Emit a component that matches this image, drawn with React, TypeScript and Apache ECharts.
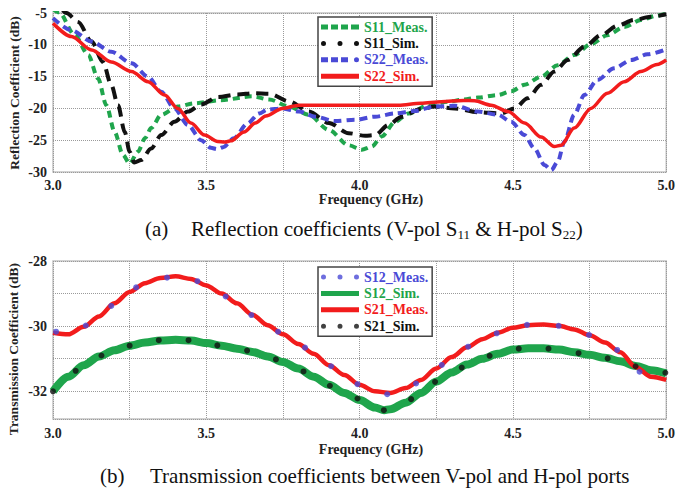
import { useEffect, useRef } from "react";
import * as echarts from "echarts";

// ---------- (a) Reflection coefficients ----------
const s11Meas: [number, number][] = [
  [3.0, -4.4], [3.02, -4.9], [3.071, -8.5], [3.115, -11.6], [3.147, -15.3], [3.174, -19.5],
  [3.201, -23.7], [3.228, -27.3], [3.25, -28.7], [3.277, -26.8], [3.3, -24.7], [3.32, -23.1],
  [3.353, -21.0], [3.407, -19.7], [3.461, -19.2], [3.548, -18.7], [3.65, -18.1], [3.705, -18.6],
  [3.77, -19.7], [3.834, -21.0], [3.9, -23.4], [3.964, -25.8], [4.007, -26.5], [4.04, -26.0],
  [4.072, -24.4], [4.116, -22.1], [4.159, -20.8], [4.224, -19.5], [4.289, -18.95], [4.338, -18.6],
  [4.386, -18.3], [4.451, -17.9], [4.494, -17.3], [4.538, -16.3], [4.592, -15.0], [4.646, -13.2],
  [4.7, -11.6], [4.754, -9.9], [4.808, -8.5], [4.863, -7.2], [4.917, -6.1], [4.97, -5.4], [5.0, -5.1],
];
const s11Sim: [number, number][] = [
  [3.0, -2.0], [3.044, -5.0], [3.082, -6.4], [3.126, -9.5], [3.163, -12.7], [3.19, -16.3],
  [3.212, -19.5], [3.234, -23.7], [3.25, -26.8], [3.265, -28.5], [3.288, -28.1], [3.32, -26.3],
  [3.353, -24.2], [3.396, -22.1], [3.44, -20.5], [3.483, -19.4], [3.537, -18.2], [3.602, -17.8],
  [3.656, -17.6], [3.705, -17.7], [3.77, -18.9], [3.834, -20.5], [3.9, -22.3], [3.964, -23.9],
  [4.018, -24.3], [4.05, -24.2], [4.094, -22.6], [4.137, -21.3], [4.2, -20.1], [4.245, -19.7],
  [4.31, -20.0], [4.386, -20.6], [4.461, -20.8], [4.505, -20.0], [4.548, -18.4], [4.592, -16.3],
  [4.635, -14.2], [4.679, -12.4], [4.733, -10.3], [4.787, -8.5], [4.841, -7.0], [4.895, -6.1],
  [4.949, -5.6], [5.0, -5.2],
];
const s22Meas: [number, number][] = [
  [3.0, -5.8], [3.06, -7.7], [3.126, -9.5], [3.19, -11.1], [3.256, -12.9], [3.31, -15.0],
  [3.353, -17.4], [3.396, -20.0], [3.44, -22.6], [3.483, -25.0], [3.515, -26.2], [3.535, -26.4],
  [3.555, -26.1], [3.59, -24.7], [3.634, -22.4], [3.672, -20.8], [3.7, -20.2], [3.748, -20.0],
  [3.802, -20.5], [3.856, -21.3], [3.92, -22.0], [3.985, -21.8], [4.05, -21.3], [4.116, -20.8],
  [4.18, -20.4], [4.245, -19.7], [4.31, -19.6], [4.386, -20.5], [4.451, -21.0], [4.494, -22.1],
  [4.538, -24.2], [4.57, -26.3], [4.603, -28.9], [4.625, -29.7], [4.646, -28.4], [4.668, -25.2],
  [4.7, -21.0], [4.733, -17.9], [4.776, -15.5], [4.83, -13.7], [4.885, -12.4], [4.939, -11.5],
  [5.0, -10.7],
];
const s22Sim: [number, number][] = [
  [3.0, -6.6], [3.06, -8.7], [3.126, -10.8], [3.19, -12.7], [3.256, -14.2], [3.31, -15.8],
  [3.364, -17.9], [3.407, -20.0], [3.45, -22.3], [3.494, -24.2], [3.537, -25.2], [3.56, -25.3],
  [3.58, -25.1], [3.623, -23.7], [3.66, -22.3], [3.694, -21.2], [3.748, -20.0], [3.802, -19.5],
  [3.9, -19.5], [4.0, -19.5], [4.127, -19.5], [4.2, -19.2], [4.266, -18.95], [4.338, -18.75],
  [4.375, -18.8], [4.429, -19.5], [4.484, -20.5], [4.538, -22.3], [4.592, -24.5], [4.635, -26.0],
  [4.657, -25.8], [4.7, -23.1], [4.754, -20.0], [4.808, -17.6], [4.863, -15.8], [4.917, -14.2],
  [4.97, -13.1], [5.0, -12.4],
];

// ---------- (b) Transmission coefficients ----------
const s21Meas: [number, number][] = [
  [3.0, -30.2], [3.05, -30.25], [3.1, -30.02], [3.15, -29.7], [3.2, -29.3], [3.25, -28.95],
  [3.3, -28.68], [3.35, -28.52], [3.4, -28.47], [3.45, -28.55], [3.5, -28.75], [3.55, -29.0],
  [3.6, -29.3], [3.65, -29.65], [3.7, -29.97], [3.75, -30.25], [3.8, -30.55], [3.85, -30.85],
  [3.9, -31.2], [3.95, -31.5], [4.0, -31.8], [4.05, -32.0], [4.1, -32.05], [4.15, -31.9],
  [4.2, -31.65], [4.25, -31.3], [4.3, -30.95], [4.35, -30.65], [4.4, -30.4], [4.45, -30.2],
  [4.5, -30.05], [4.55, -29.97], [4.6, -29.95], [4.65, -29.99], [4.7, -30.1], [4.75, -30.28],
  [4.8, -30.5], [4.85, -30.8], [4.9, -31.25], [4.95, -31.55], [5.0, -31.65],
];
const s12Sim: [number, number][] = [
  [3.0, -32.0], [3.05, -31.55], [3.1, -31.2], [3.15, -30.93], [3.2, -30.74], [3.25, -30.6],
  [3.3, -30.5], [3.35, -30.44], [3.4, -30.42], [3.45, -30.44], [3.5, -30.52], [3.55, -30.6],
  [3.6, -30.69], [3.65, -30.79], [3.7, -30.93], [3.75, -31.1], [3.8, -31.3], [3.85, -31.55],
  [3.9, -31.8], [3.95, -32.05], [4.0, -32.27], [4.05, -32.5], [4.08, -32.58], [4.1, -32.55],
  [4.15, -32.35], [4.2, -32.05], [4.25, -31.7], [4.3, -31.42], [4.35, -31.18], [4.4, -31.0],
  [4.45, -30.85], [4.5, -30.72], [4.55, -30.68], [4.6, -30.68], [4.65, -30.72], [4.7, -30.8],
  [4.75, -30.88], [4.8, -30.97], [4.85, -31.08], [4.9, -31.22], [4.95, -31.35], [5.0, -31.45],
];
const s12MeasDots: [number, number][] = [
  [3.01, -30.17], [3.107, -29.98], [3.19, -29.38], [3.271, -28.81], [3.372, -28.51], [3.471, -28.62],
  [3.563, -29.09], [3.647, -29.66], [3.734, -30.17], [3.822, -30.66], [3.907, -31.23], [3.993, -31.78],
  [4.09, -32.09], [4.184, -31.76], [4.268, -31.19], [4.354, -30.63], [4.447, -30.22], [4.546, -29.96],
  [4.649, -29.99], [4.748, -30.27], [4.84, -30.73], [4.913, -31.4],
];
const s21SimDots: [number, number][] = [
  [3.0, -32.0], [3.074, -31.37], [3.158, -30.9], [3.25, -30.6], [3.345, -30.43], [3.442, -30.43],
  [3.536, -30.59], [3.633, -30.75], [3.727, -31.02], [3.817, -31.39], [3.903, -31.83], [3.993, -32.22],
  [4.079, -32.58], [4.168, -32.24], [4.246, -31.71], [4.333, -31.27], [4.424, -30.91], [4.519, -30.69],
  [4.616, -30.69], [4.714, -30.83], [4.809, -30.99], [4.9, -31.23], [4.997, -31.43],
];

const legendTop = ["S11_Meas.", "S11_Sim.", "S22_Meas.", "S22_Sim."];
const legendBottom = ["S12_Meas.", "S12_Sim.", "S21_Meas.", "S21_Sim."];

const GREEN = "#1fa54c";
const BLACK = "#111111";
const BLUE = "#4a4ad6";
const RED = "#f21c1c";
const SERIF = "'Liberation Serif', 'Times New Roman', serif";

const DASH_ICON = "path://M0,0H7V5H0Z M10,0H17V5H10Z M20,0H27V5H20Z M30,0H38V5H30Z";
const DOT_ICON =
  "path://M0,2.5a2.5,2.5 0 1,0 5,0a2.5,2.5 0 1,0 -5,0Z M16.5,2.5a2.5,2.5 0 1,0 5,0a2.5,2.5 0 1,0 -5,0Z M33,2.5a2.5,2.5 0 1,0 5,0a2.5,2.5 0 1,0 -5,0Z";
const DASH_DOT_ICON =
  "path://M0,0H7V5H0Z M10,0H17V5H10Z M20,0H27V5H20Z M33,2.5a2.5,2.5 0 1,0 5,0a2.5,2.5 0 1,0 -5,0Z";
const SOLID_ICON = "path://M0,0H38V5H0Z";

const labelStyle = {
  fontFamily: SERIF,
  fontWeight: "bold",
  fontSize: 14,
  color: "#222",
};

function xAxisFor(gridIndex: number, margin: number) {
  return {
    type: "value",
    gridIndex,
    min: 3,
    max: 5,
    interval: 0.25,
    axisLine: { show: false },
    axisTick: { show: false },
    axisLabel: {
      ...labelStyle,
      margin,
      formatter: (v: number) => (Math.abs(v * 2 - Math.round(v * 2)) < 1e-6 ? v.toFixed(1) : ""),
    },
    splitLine: { show: true, lineStyle: { color: "#9a9a9a", type: "dotted", width: 1 } },
  };
}

export default function App() {
  const ref = useRef<HTMLDivElement>(null);
  useEffect(() => {
    if (!ref.current) return;
    const chart = echarts.init(ref.current, null, { renderer: "svg" });
    const legendBase = {
      orient: "vertical",
      selectedMode: false,
      backgroundColor: "#ffffff",
      borderColor: "#444",
      borderWidth: 1.5,
      itemWidth: 38,
      itemHeight: 5,
      itemGap: 2.4,
      padding: [3, 4, 3, 3],
      textStyle: { fontFamily: SERIF, fontWeight: "bold", fontSize: 14 },
    };
    const titleFont = `bold 13.5px ${SERIF}`;
    const option: any = {
      animation: false,
      backgroundColor: "#ffffff",
      grid: [
        { left: 53, right: 9, top: 13, height: 159, show: true, borderColor: "#c4c4c4", borderWidth: 1.5, backgroundColor: "transparent" },
        { left: 53, right: 8, top: 261, height: 158, show: true, borderColor: "#c4c4c4", borderWidth: 1.5, backgroundColor: "transparent" },
      ],
      xAxis: [xAxisFor(0, 6), xAxisFor(1, 7)],
      yAxis: [
        {
          type: "value",
          gridIndex: 0,
          min: -30,
          max: -5,
          interval: 5,
          axisLine: { show: false },
          axisTick: { show: false },
          axisLabel: { ...labelStyle, margin: 6 },
          splitLine: { show: true, lineStyle: { color: "#9a9a9a", type: "dotted", width: 1 } },
        },
        {
          type: "value",
          gridIndex: 1,
          min: -32.85,
          max: -28,
          splitNumber: 5,
          axisLine: { show: false },
          axisTick: { show: false },
          axisLabel: {
            ...labelStyle,
            margin: 6,
            formatter: (v: number) =>
              Math.abs(v - Math.round(v)) < 1e-6 && Math.round(v) % 2 === 0 ? String(Math.round(v)) : "",
          },
          splitLine: { show: true, lineStyle: { color: "#9a9a9a", type: "dotted", width: 1 } },
        },
      ],
      legend: [
        {
          ...legendBase,
          left: 318,
          top: 17,
          data: [
            { name: legendTop[0], icon: DASH_ICON, itemStyle: { color: GREEN }, textStyle: { color: GREEN } },
            { name: legendTop[1], icon: DOT_ICON, itemStyle: { color: BLACK }, textStyle: { color: BLACK } },
            { name: legendTop[2], icon: DASH_DOT_ICON, itemStyle: { color: BLUE }, textStyle: { color: BLUE } },
            { name: legendTop[3], icon: SOLID_ICON, itemStyle: { color: RED }, textStyle: { color: RED } },
          ],
        },
        {
          ...legendBase,
          left: 318,
          top: 267,
          data: [
            { name: legendBottom[0], icon: DOT_ICON, itemStyle: { color: BLUE }, textStyle: { color: BLUE } },
            { name: legendBottom[1], icon: SOLID_ICON, itemStyle: { color: GREEN }, textStyle: { color: GREEN } },
            { name: legendBottom[2], icon: SOLID_ICON, itemStyle: { color: RED }, textStyle: { color: RED } },
            { name: legendBottom[3], icon: DOT_ICON, itemStyle: { color: BLACK }, textStyle: { color: BLACK } },
          ],
        },
      ],
      series: [
        {
          type: "line", name: legendTop[0], xAxisIndex: 0, yAxisIndex: 0, data: s11Meas,
          smooth: 0.3, smoothMonotone: "x", symbol: "none",
          itemStyle: { color: GREEN }, lineStyle: { color: GREEN, width: 4, type: [7, 5] },
        },
        {
          type: "line", name: legendTop[1], xAxisIndex: 0, yAxisIndex: 0, data: s11Sim,
          smooth: 0.3, smoothMonotone: "x", symbol: "none",
          itemStyle: { color: BLACK }, lineStyle: { color: BLACK, width: 4, type: [12, 7] },
        },
        {
          type: "line", name: legendTop[2], xAxisIndex: 0, yAxisIndex: 0, data: s22Meas,
          smooth: 0.3, smoothMonotone: "x", symbol: "none",
          itemStyle: { color: BLUE }, lineStyle: { color: BLUE, width: 4, type: [8, 5] },
        },
        {
          type: "line", name: legendTop[3], xAxisIndex: 0, yAxisIndex: 0, data: s22Sim,
          smooth: 0.3, smoothMonotone: "x", symbol: "none",
          itemStyle: { color: RED }, lineStyle: { color: RED, width: 3.5 },
        },
        {
          type: "line", name: legendBottom[1], xAxisIndex: 1, yAxisIndex: 1, data: s12Sim,
          smooth: 0.3, smoothMonotone: "x", symbol: "none", z: 2,
          itemStyle: { color: GREEN }, lineStyle: { color: GREEN, width: 8 },
        },
        {
          type: "line", name: legendBottom[2], xAxisIndex: 1, yAxisIndex: 1, data: s21Meas,
          smooth: 0.3, smoothMonotone: "x", symbol: "none", z: 2,
          itemStyle: { color: RED }, lineStyle: { color: RED, width: 4.5 },
        },
        {
          type: "scatter", name: legendBottom[0], xAxisIndex: 1, yAxisIndex: 1, data: s12MeasDots,
          symbolSize: 6, z: 3, itemStyle: { color: BLUE },
        },
        {
          type: "scatter", name: legendBottom[3], xAxisIndex: 1, yAxisIndex: 1, data: s21SimDots,
          symbolSize: 6, z: 3, itemStyle: { color: BLACK },
        },
      ],
      graphic: [
        {
          type: "text", x: 14, y: 93, rotation: Math.PI / 2,
          style: { text: "Reflection Coefficient (dB)", font: titleFont, fill: "#222", align: "center", verticalAlign: "middle" },
        },
        {
          type: "text", x: 371, y: 199,
          style: { text: "Frequency (GHz)", font: `bold 14px ${SERIF}`, fill: "#222", align: "center", verticalAlign: "middle" },
        },
        {
          type: "text", x: 145, y: 229,
          style: { text: "(a)", font: `21px ${SERIF}`, fill: "#111", align: "left", verticalAlign: "middle" },
        },
        {
          type: "text", x: 191, y: 229,
          style: {
            text: "{t|Reflection coefficients (V-pol S}{s|11}{t| & H-pol S}{s|22}{t|)}",
            align: "left", verticalAlign: "middle",
            rich: {
              t: { fontFamily: SERIF, fontSize: 21, lineHeight: 24, fill: "#111", color: "#111" },
              s: { fontFamily: SERIF, fontSize: 13, lineHeight: 12, verticalAlign: "bottom", fill: "#111", color: "#111" },
            },
          },
        },
        {
          type: "text", x: 13, y: 349, rotation: Math.PI / 2,
          style: { text: "Transmission Coefficient (dB)", font: titleFont, fill: "#222", align: "center", verticalAlign: "middle" },
        },
        {
          type: "text", x: 371, y: 449,
          style: { text: "Frequency (GHz)", font: `bold 14px ${SERIF}`, fill: "#222", align: "center", verticalAlign: "middle" },
        },
        {
          type: "text", x: 100, y: 476,
          style: { text: "(b)", font: `21px ${SERIF}`, fill: "#111", align: "left", verticalAlign: "middle" },
        },
        {
          type: "text", x: 150, y: 476,
          style: { text: "Transmission coefficients between V-pol and H-pol ports", font: `21px ${SERIF}`, fill: "#111", align: "left", verticalAlign: "middle" },
        },
      ],
    };
    chart.setOption(option);
    return () => chart.dispose();
  }, []);
  return (
    <div
      ref={ref}
      style={{ position: "fixed", left: 0, top: 0, width: 678, height: 489, background: "#fff" }}
    />
  );
}
